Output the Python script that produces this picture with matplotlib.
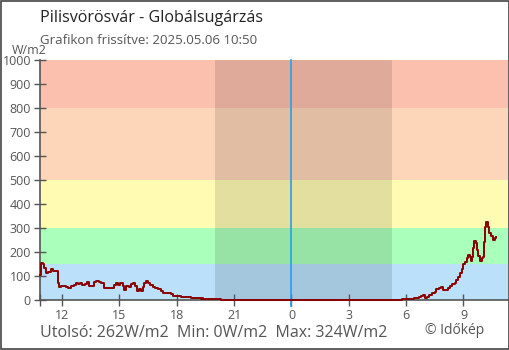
import matplotlib
matplotlib.use("Agg")
import matplotlib.pyplot as plt
from matplotlib.patches import Rectangle

plt.rcParams['font.family'] = ['Open Sans', 'DejaVu Sans']

# time in hours since midnight of the first day, values in W/m2
hours = [10.84, 10.90, 10.99, 11.04, 11.13, 11.25, 11.39, 11.51, 11.74, 11.78,
         11.86, 11.95, 12.21, 12.33, 12.44, 12.61, 12.70, 12.82, 12.94, 13.04,
         13.17, 13.29, 13.38, 13.55, 13.64, 13.77, 13.92, 14.04, 14.21, 14.59,
         14.73, 14.82, 14.94, 15.05, 15.17, 15.26, 15.34, 15.48, 15.59, 15.69,
         15.79, 15.91, 16.00, 16.11, 16.23, 16.28, 16.37, 16.49, 16.58, 16.75,
         16.87, 17.01, 17.19, 17.27, 17.71, 17.79, 18.23, 18.40, 18.75, 19.28,
         19.31, 19.36, 19.97, 20.30, 29.28, 29.62, 29.80, 30.24, 30.41, 30.67,
         30.79, 30.89, 30.97, 31.07, 31.19, 31.36, 31.49, 31.57, 31.71, 31.83,
         31.92, 32.06, 32.20, 32.32, 32.41, 32.55, 32.62, 32.72, 32.81, 32.90,
         32.99, 33.07, 33.16, 33.25, 33.32, 33.37, 33.42, 33.51, 33.56, 33.63,
         33.71, 33.77, 33.84, 33.97, 34.02, 34.08, 34.15, 34.20, 34.27, 34.36,
         34.44, 34.53, 34.63, 34.72]
values = [104, 155, 150, 133, 111, 115, 128, 122, 122, 69,
          53, 60, 56, 49, 58, 62, 69, 65, 72, 62,
          67, 76, 58, 58, 76, 81, 74, 69, 51, 49,
          62, 72, 62, 69, 60, 42, 60, 56, 67, 72,
          58, 39, 44, 39, 53, 69, 81, 72, 62, 56,
          51, 44, 37, 28, 24, 17, 14, 11, 7, 4,
          8, 4, 3, 0, 1, 2, 5, 5, 10, 14,
          17, 19, 8, 14, 22, 28, 33, 44, 49, 56,
          42, 42, 49, 58, 67, 72, 83, 97, 114, 128,
          149, 160, 176, 188, 178, 164, 181, 215, 247, 236,
          208, 183, 164, 174, 181, 243, 306, 324, 306, 281,
          267, 250, 257, 262]

band_edges = [0, 150, 300, 500, 800, 1000]
band_colors = ['#bae0fa', '#aaffbb', '#fffbb2', '#fdd5b9', '#fcc0ae']

tick_pos = [12, 15, 18, 21, 24, 27, 30, 33]
tick_labels = ['12', '15', '18', '21', '0', '3', '6', '9']
yticks = list(range(0, 1001, 100))

night_start, night_end = 20.02, 29.26
midnight = 24
x_min, x_max = 10.84, 35.33

fig = plt.figure(figsize=(5.1, 3.5), dpi=100)
ax = fig.add_axes([40 / 510, 50 / 350, 468 / 510, 240 / 350])

for lo, hi, c in zip(band_edges[:-1], band_edges[1:], band_colors):
    ax.axhspan(lo, hi, color=c, lw=0, zorder=0)
ax.axvspan(night_start, night_end, color='black', alpha=0.11, lw=0, zorder=1)
ax.axvline(midnight, ymin=-0.025, ymax=1, color='#2a9de8', lw=1.2, zorder=2,
           clip_on=False)

ax.plot(hours, values, color='#8b0000', lw=1.4, drawstyle='steps-post', zorder=4,
        clip_on=False)

ax.set_xlim(x_min, x_max)
ax.set_ylim(0, 1000)
ax.set_xticks(tick_pos)
ax.set_xticklabels(tick_labels)
ax.set_xticks([x_min], minor=True)
ax.set_yticks(yticks)

for s in ['top', 'right']:
    ax.spines[s].set_visible(False)
for s in ['left', 'bottom']:
    ax.spines[s].set_color('#555555')
    ax.spines[s].set_linewidth(1.2)
    ax.spines[s].set_zorder(3)
ax.tick_params(which='both', direction='inout', length=9, width=1, color='#555555',
               labelcolor='#555555', labelsize=9, pad=2)

fig.text(40 / 510, 1 - 18 / 350, 'Pilisvörösvár - Globálsugárzás', fontsize=11.6,
         color='#222222', va='center', ha='left')
fig.text(40 / 510, 1 - 41 / 350, 'Grafikon frissítve: 2025.05.06 10:50', fontsize=9.5,
         color='#555555', va='center', ha='left')
fig.text(12 / 510, 1 - 51 / 350, 'W/m2', fontsize=9, color='#555555', va='center', ha='left')
fig.text(40 / 510, 1 - 333 / 350, 'Utolsó: 262W/m2  Min: 0W/m2  Max: 324W/m2', fontsize=11.5,
         color='#555555', va='center', ha='left')
fig.text(425 / 510, 1 - 331 / 350, '© Időkép', fontsize=10, color='#555555',
         va='center', ha='left')

fig.patches.append(Rectangle((0.001, 0.0015), 0.997, 0.996, transform=fig.transFigure,
                             fill=False, edgecolor='#444444', lw=1.2))

fig.savefig('out.png', dpi=100)
